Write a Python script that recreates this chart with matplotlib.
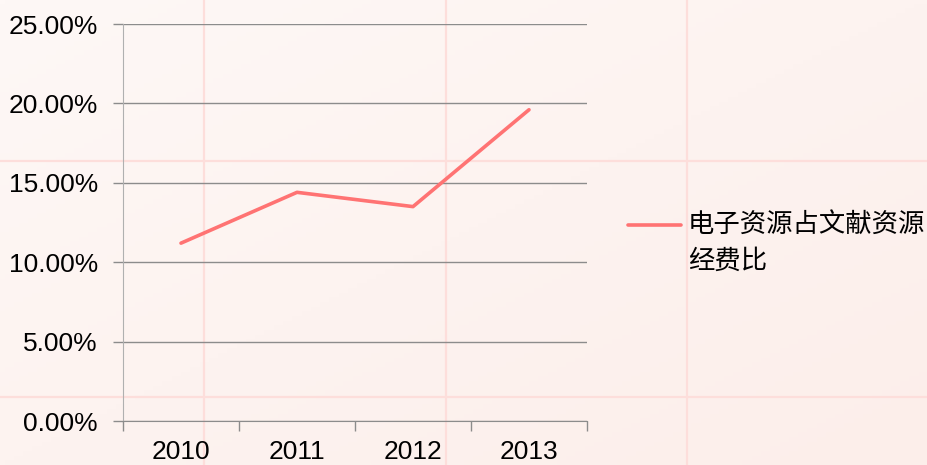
import numpy as np
import matplotlib.pyplot as plt
from matplotlib.lines import Line2D
from matplotlib.ticker import FuncFormatter, FixedLocator

years = [2010, 2011, 2012, 2013]
ratio = [11.2, 14.4, 13.5, 19.6]   # percent
series_name = ["电子资源占文献资源", "经费比"]
yticks = [0, 5, 10, 15, 20, 25]

plt.rcParams['font.family'] = ['Liberation Sans', 'DejaVu Sans']

fig = plt.figure(figsize=(9.28, 4.65), dpi=100)

# slide background: soft pink gradient + faint pink guide lines
bg = fig.add_axes([0, 0, 1, 1], zorder=-10)
gx, gy = np.meshgrid(np.linspace(0, 1, 200), np.linspace(0, 1, 100))
g = (gx + gy) / 2
c0 = np.array([254, 248, 246]) / 255
c1 = np.array([252, 238, 234]) / 255
img = c0[None, None, :] * (1 - g[..., None]) + c1[None, None, :] * g[..., None]
bg.imshow(img, extent=[0, 1, 0, 1], aspect='auto', origin='upper')
for px in [204, 446, 687]:
    bg.axvline(px / 928, color='#fddedb', lw=1.6)
for py in [161, 397]:
    bg.axhline(1 - py / 465, color='#fddedb', lw=1.6)
bg.set_xlim(0, 1)
bg.set_ylim(0, 1)
bg.axis('off')

ax = fig.add_axes([123 / 928, 44 / 465, 464 / 928, 397 / 465])
ax.set_facecolor('none')
ax.plot(years, ratio, color='#ff7373', lw=2.6, solid_capstyle='round', zorder=3)

ax.set_xlim(2009.5, 2013.5)
ax.set_ylim(0, 25)
ax.set_yticks(yticks)
ax.yaxis.set_major_formatter(FuncFormatter(lambda v, p: f"{v:.2f}%"))
ax.grid(axis='y', color='#8c8c8c', lw=1)

ax.set_xticks(years)
ax.set_xticklabels([str(y) for y in years])
ax.xaxis.set_minor_locator(FixedLocator([2009.5, 2010.5, 2011.5, 2012.5, 2013.5]))
ax.tick_params(axis='x', which='major', length=0, pad=14, labelsize=19)
ax.tick_params(axis='x', which='minor', length=7, color='#8c8c8c', width=1)
ax.tick_params(axis='y', length=7, color='#8c8c8c', width=1, pad=11, labelsize=19)

for s in ['top', 'right']:
    ax.spines[s].set_visible(False)
ax.spines['left'].set_color('#b0b0b0')
ax.spines['bottom'].set_color('#8c8c8c')

# legend
fig.add_artist(Line2D([628 / 928, 681 / 928], [1 - 225 / 465] * 2,
                      color='#ff7373', lw=2.6, solid_capstyle='round'))
cjk = ['Noto Sans CJK SC', 'DejaVu Sans']
fig.text(688 / 928, 1 - 225 / 465, series_name[0], family=cjk, fontsize=19, va='center', ha='left')
fig.text(688 / 928, 1 - 261 / 465, series_name[1], family=cjk, fontsize=19, va='center', ha='left')

fig.savefig('out.png', dpi=100)
